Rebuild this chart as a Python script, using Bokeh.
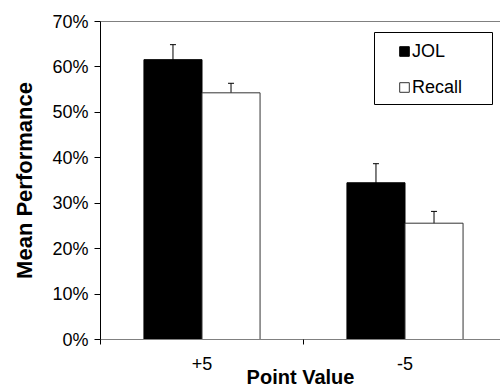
from bokeh.plotting import figure
from bokeh.models import (ColumnDataSource, Range1d, FixedTicker, LinearAxis, Whisker,
                          TeeHead, Legend, LegendItem, BoxAnnotation, PrintfTickFormatter)
from bokeh.embed import file_html
from bokeh.resources import INLINE

# ---- data ----
categories = ["+5", "-5"]
jol = [61.6, 34.5]
jol_err = [3.3, 4.2]
recall = [54.3, 25.6]
recall_err = [2.1, 2.6]
y_ticks = [0, 10, 20, 30, 40, 50, 60, 70]

FONT = "Liberation Sans"
BAR_W = 0.286
centers = [i + 0.5 for i in range(len(categories))]

src_jol = ColumnDataSource(dict(
    x=[c - BAR_W / 2 for c in centers], top=jol,
    upper=[v + e for v, e in zip(jol, jol_err)],
    lower=[v - e for v, e in zip(jol, jol_err)]))
src_rec = ColumnDataSource(dict(
    x=[c + BAR_W / 2 for c in centers], top=recall,
    upper=[v + e for v, e in zip(recall, recall_err)],
    lower=[v - e for v, e in zip(recall, recall_err)]))

p = figure(width=500, height=390, x_range=Range1d(0, 400 / 203), y_range=Range1d(0, 70),
           output_backend="svg", toolbar_location=None,
           min_border_left=100, min_border_right=0, min_border_top=21, min_border_bottom=49)
p.xgrid.visible = False
p.ygrid.visible = False
p.outline_line_color = None
p.background_fill_color = "white"

r_jol = p.vbar(x="x", top="top", bottom=0, width=BAR_W, source=src_jol,
               fill_color="black", line_color="black", line_width=1)
r_rec = p.vbar(x="x", top="top", bottom=0, width=BAR_W, source=src_rec,
               fill_color="white", line_color="#333333", line_width=1)

for s in (src_jol, src_rec):
    p.add_layout(Whisker(source=s, base="x", upper="upper", lower="lower",
                         line_color="black", line_width=1,
                         upper_head=TeeHead(size=6, line_color="black", line_width=1),
                         lower_head=TeeHead(size=6, line_color="black", line_width=1)))

# y axis
ya = p.yaxis[0]
ya.ticker = FixedTicker(ticks=y_ticks)
ya.formatter = PrintfTickFormatter(format="%d%%")
ya.axis_line_color = "black"
ya.major_tick_line_color = "black"
ya.major_tick_out = 6
ya.major_tick_in = 0
ya.minor_tick_line_color = None
ya.major_label_standoff = 6
ya.major_label_text_font = FONT
ya.major_label_text_font_size = "18px"
ya.major_label_text_color = "black"
ya.axis_label = "Mean Performance"
ya.axis_label_text_font = FONT
ya.axis_label_text_font_size = "22px"
ya.axis_label_text_font_style = "bold"
ya.axis_label_text_color = "black"
ya.axis_label_standoff = 12

# x axis
xa = p.xaxis[0]
xa.ticker = FixedTicker(ticks=centers, minor_ticks=list(range(len(categories) + 1)))
xa.major_label_overrides = {c: lab for c, lab in zip(centers, categories)}
xa.axis_line_color = "#808080"
xa.major_tick_line_color = None
xa.major_tick_out = 0
xa.major_tick_in = 0
xa.minor_tick_line_color = "black"
xa.minor_tick_out = 5
xa.minor_tick_in = 0
xa.major_label_standoff = 12
xa.major_label_text_font = FONT
xa.major_label_text_font_size = "18px"
xa.major_label_text_color = "black"
xa.axis_label = "Point Value"
xa.axis_label_text_font = FONT
xa.axis_label_text_font_size = "20px"
xa.axis_label_text_font_style = "bold"
xa.axis_label_text_color = "black"
xa.axis_label_standoff = -7

# top border line
top_ax = LinearAxis(ticker=FixedTicker(ticks=[]), axis_line_color="#808080",
                    major_tick_line_color=None, minor_tick_line_color=None,
                    major_label_text_font_size="0px")
p.add_layout(top_ax, "above")

# legend frame + legend
p.add_layout(BoxAnnotation(left=274, right=392, bottom=235, top=307,
                           left_units="screen", right_units="screen",
                           bottom_units="screen", top_units="screen",
                           fill_color="white", fill_alpha=1, line_color="black",
                           line_width=1, line_alpha=1))
legend = Legend(items=[LegendItem(label="JOL", renderers=[r_jol]),
                       LegendItem(label="Recall", renderers=[r_rec])],
                location=(298, 241), padding=0, spacing=14, margin=0,
                glyph_width=12, glyph_height=12, label_height=22, label_standoff=2,
                label_text_font=FONT, label_text_font_size="18px",
                label_text_color="black", border_line_color=None,
                background_fill_alpha=0)
p.add_layout(legend, "center")

open("out.html", "w").write(file_html(p, INLINE))
